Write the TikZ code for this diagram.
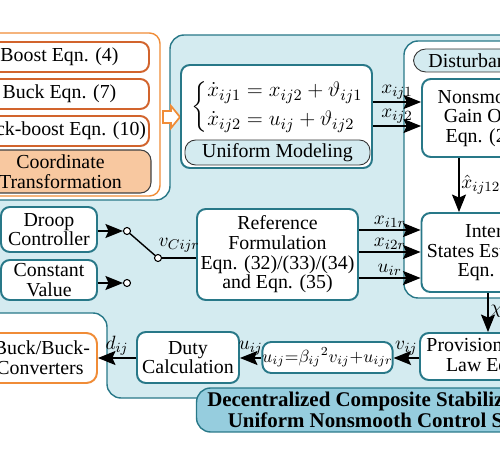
\documentclass[tikz,border=0pt]{standalone}
\usepackage{amsmath}
\usepackage{fontspec}
\setmainfont{Liberation Serif}
\usetikzlibrary{arrows.meta}

\definecolor{tealline}{RGB}{40,120,136}
\definecolor{lightfill}{RGB}{212,235,240}
\definecolor{bannerfill}{RGB}{150,205,222}
\definecolor{orangeline}{RGB}{240,140,55}
\definecolor{orangedark}{RGB}{210,100,45}
\definecolor{peach}{RGB}{248,200,160}

\begin{document}
\begin{tikzpicture}[x=0.02cm,y=-0.02cm,
    font=\fontsize{11.3}{11.2}\selectfont,
    blk/.style={draw=tealline,line width=1.1pt,fill=white,rounded corners=5pt,align=center,inner sep=0pt},
    obox/.style={draw=orangedark,line width=1.1pt,fill=white,rounded corners=5pt,inner sep=0pt,minimum width=3.58cm,minimum height=0.6cm},
    pill/.style={draw=black!80,line width=0.5pt,fill=lightfill,rounded corners=6pt,inner sep=0pt},
    arr/.style={-{Stealth[length=10pt,width=8pt,inset=1.8pt]},line width=0.8pt},
    lbl/.style={inner sep=1pt}]
    \useasboundingbox (0,0) rectangle (500,449);

    % Converter models
    \draw[orangeline,line width=0.8pt,fill=white,rounded corners=6pt] (-20,33) rectangle (160,196);
    \node[obox] (boost) at (59.5,57) {Boost Eqn. (4)};
    \node[obox] (buck) at (59.5,94) {Buck Eqn. (7)};
    \node[obox] (bb) at (59.5,131) {Buck-boost Eqn. (10)};
    \node[draw=black!75,line width=0.6pt,fill=peach,rounded corners=6pt,minimum width=3.62cm,minimum height=0.86cm,align=center,inner sep=0pt] (ct) at (60.5,171.5) {Coordinate\\Transformation};

    % Control region
    \draw[tealline,line width=0.8pt,fill=lightfill,rounded corners=8pt] (-20,200) -- (170,200) -- (170,35) -- (530,35) -- (530,398) -- (107,398) -- (107,313) -- (-20,313) -- cycle;
    \draw[orangeline,line width=1pt,fill=white] (163,111) -- (171,111) -- (171,106) -- (180,117) -- (171,128) -- (171,123) -- (163,123) -- cycle;

    % Uniform modeling
    \node[blk,minimum width=3.82cm,minimum height=2.06cm] (um) at (276.5,116.5) {};
    \node[font=\fontsize{12.5}{12.5}\selectfont] (eq) at (278,107) {$\left\{\begin{aligned}\dot{x}_{ij1}&=x_{ij2}+\vartheta_{ij1}\\[1pt] \dot{x}_{ij2}&=u_{ij}+\vartheta_{ij2}\end{aligned}\right.$};
    \node[pill,minimum width=3.7cm,minimum height=0.5cm] (uml) at (277.5,152.5) {Uniform Modeling};

    % Disturbance observer
    \draw[tealline,line width=0.8pt,fill=white,rounded corners=8pt] (404,41) rectangle (560,298);
    \node[pill,anchor=west,minimum height=0.46cm,inner xsep=0.3cm,rounded corners=7pt] (dl) at (413,60.5) {Disturbance Observer};
    \node[blk,minimum width=2.48cm,minimum height=1.56cm] (nso) at (484,118) {Nonsmooth\\Gain Obs.\\Eqn. (21)};
    \node[blk,minimum width=2.98cm,minimum height=1.58cm] (ise) at (496,252.5) {Internal\\States Estimation\\Eqn. (22)};

    % Reference and droop
    \node[blk,minimum width=3.22cm,minimum height=1.82cm] (ref) at (277.5,254.5) {Reference\\Formulation\\Eqn. (32)/(33)/(34)\\and Eqn. (35)};
    \node[blk,minimum width=1.92cm,minimum height=0.9cm] (droop) at (49,229.5) {Droop\\Controller};
    \node[blk,minimum width=1.92cm,minimum height=0.8cm] (const) at (49,280) {Constant\\Value};
    \node[circle,draw,fill=white,inner sep=0pt,minimum size=0.14cm,line width=0.6pt] (s1) at (127,231) {};
    \node[circle,draw,fill=white,inner sep=0pt,minimum size=0.14cm,line width=0.6pt] (s2) at (127,283) {};
    \node[circle,draw,fill=white,inner sep=0pt,minimum size=0.14cm,line width=0.6pt] (s3) at (158,258) {};

    % Bottom row
    \node[blk,minimum width=3.38cm,minimum height=0.94cm] (prov) at (504.5,356.5) {Provisional Control\\Law Eqn. (24)};
    \node[blk,minimum width=2.42cm,minimum height=0.62cm,font=\fontsize{9.8}{10}\selectfont] (form) at (327.5,357.5) {$u_{ij}{=}\beta_{ij}{}^{2}v_{ij}{+}u_{ijr}$};
    \node[blk,minimum width=2.04cm,minimum height=1.02cm] (duty) at (188,357.5) {Duty\\Calculation};
    \node[draw=orangeline,line width=1.1pt,fill=white,rounded corners=6pt,minimum width=3.24cm,minimum height=1cm,align=center,inner sep=0pt] (conv) at (16,358) {Boost/Buck/Buck-\\boost Converters};
    \node[draw=tealline,line width=0.8pt,fill=bannerfill,rounded corners=8pt,minimum width=7.9cm,minimum height=0.88cm,align=center,inner sep=0pt,font=\fontsize{11.9}{10.6}\selectfont\bfseries] (ban) at (394,410) {Decentralized Composite Stabilization via\\Uniform Nonsmooth Control Scheme};

    % Signals
    \draw[arr] (um.east |- 0,102) -- (nso.west |- 0,102) node[midway,above,lbl] {$x_{ij1}$};
    \draw[arr] (um.east |- 0,126) -- (nso.west |- 0,126) node[midway,above,lbl] {$x_{ij2}$};
    \draw[arr] (nso.south -| 459,0) -- (ise.north -| 459,0) node[midway,right,lbl] {$\hat{x}_{ij12}$};
    \draw[arr] (droop.east |- s1) -- (s1.west);
    \draw[arr] (const.east |- s2) -- (s2.west);
    \draw[line width=0.8pt] (s1) -- (s3);
    \draw[line width=0.8pt] (s3.east) -- (ref.west |- s3) node[midway,above,lbl,yshift=2pt] {$v_{Cijr}$};
    \draw[arr] (ref.east |- 0,230) -- (ise.west |- 0,230) node[midway,above,lbl] {$x_{i1r}$};
    \draw[arr] (ref.east |- 0,252) -- (ise.west |- 0,252) node[midway,above,lbl] {$x_{i2r}$};
    \draw[arr] (ref.east |- 0,278) -- (ise.west |- 0,278) node[midway,above,lbl] {$u_{ir}$};
    \draw[arr] (ise.south -| 488,0) -- (prov.north -| 488,0) node[midway,right,lbl] {$\chi_{ij}$};
    \draw[arr] (prov.west |- 0,358) -- (form.east |- 0,358) node[midway,above,lbl] {$v_{ij}$};
    \draw[arr] (form.west |- 0,358) -- (duty.east |- 0,358) node[midway,above,lbl] {$u_{ij}$};
    \draw[arr] (duty.west |- 0,358) -- (conv.east |- 0,358) node[midway,above,lbl] {$d_{ij}$};
\end{tikzpicture}
\end{document}
